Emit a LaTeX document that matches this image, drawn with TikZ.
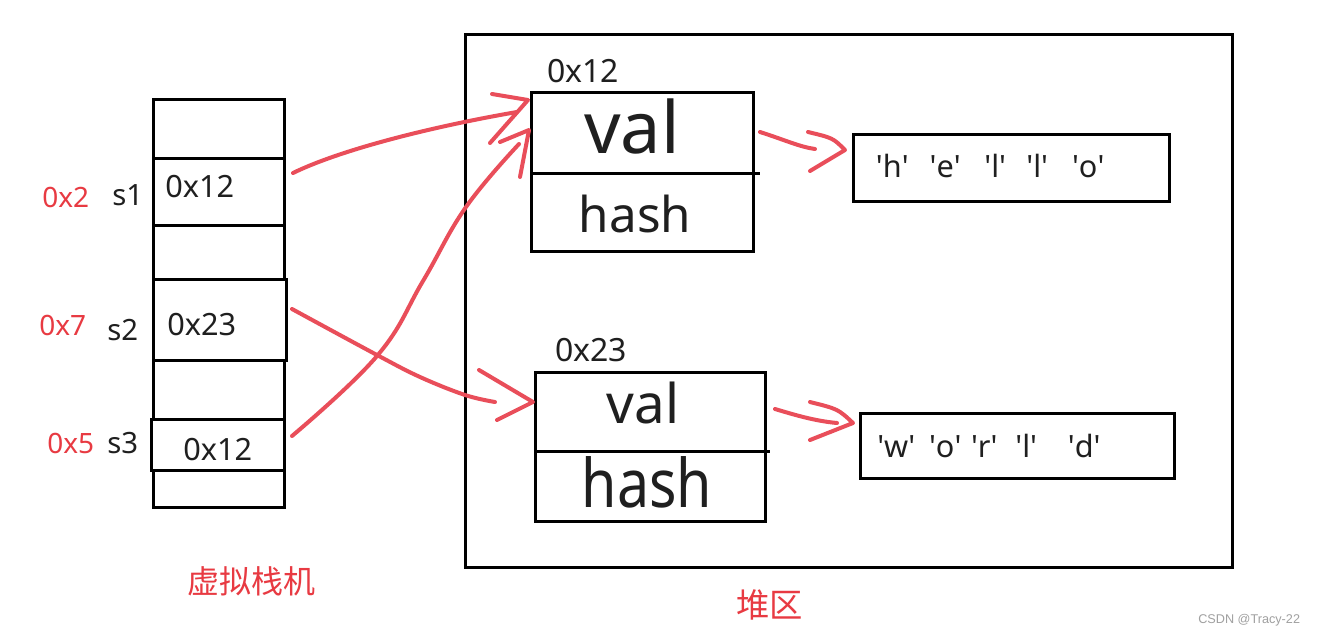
\documentclass[tikz,border=0pt]{standalone}
\usepackage{fontspec}
\setmainfont{Noto Sans}
\newfontfamily\cjk{Noto Sans CJK SC}
\newfontfamily\wmfont{Liberation Sans}
\usetikzlibrary{calc}
\definecolor{inkred}{RGB}{233,78,90}
\definecolor{labred}{RGB}{232,58,66}
\definecolor{wmgray}{RGB}{160,160,160}
\newcommand{\myfs}[1]{\fontsize{#1}{#1}\selectfont}
\newcommand{\qt}{\textquotesingle}
\newcommand{\chr}[1]{\makebox[0pt][c]{\qt #1\qt}}
\begin{document}
\begin{tikzpicture}[x=0.75pt,y=-0.75pt,
  box/.style={draw=black, line width=2.25pt, inner sep=0pt, outer sep=0pt},
  txt/.style={inner sep=0pt, anchor=base west, text=black!88},
  ctxt/.style={inner sep=0pt, anchor=base, text=black!88},
  redtxt/.style={inner sep=0pt, anchor=base west, text=labred},
  redline/.style={draw=inkred, line width=3pt, line cap=round, line join=round},
  divider/.style={draw=black, line width=2.25pt},
]
\useasboundingbox (0,0) rectangle (1317,635);
\fill[white] (0,0) rectangle (1317,635);

% ---- virtual stack ----
\node[box, minimum width=98.25pt, minimum height=43.5pt]  (c0) at (218.5,129) {};
\node[box, minimum width=98.25pt, minimum height=50.25pt] (c1) at (218.5,191.5) {};
\node[box, minimum width=98.25pt, minimum height=40.5pt]  (c2) at (218.5,252) {};
\node[box, minimum width=99.75pt, minimum height=60.75pt] (c3) at (219.5,319.5) {};
\node[box, minimum width=98.25pt, minimum height=44.25pt] (c4) at (218.5,389.5) {};
\node[box, minimum width=99.75pt, minimum height=38.25pt] (c5) at (217.5,444.5) {};
\node[box, minimum width=98.25pt, minimum height=27.75pt] (c6) at (218.5,488.5) {};

\node[txt, font=\myfs{23}] (v1) at (165,197) {0x12};
\node[txt, font=\myfs{23}] (v2) at (167,335) {0x23};
\node[txt, font=\myfs{23}] (v3) at (183,460) {0x12};
\node[txt, font=\myfs{22}] (n1) at (112,205) {s1};
\node[txt, font=\myfs{22}] (n2) at (107,340) {s2};
\node[txt, font=\myfs{22}] (n3) at (107,453) {s3};
\node[redtxt, font=\myfs{21}] (a1) at (42,207) {0x2};
\node[redtxt, font=\myfs{21}] (a2) at (39,335) {0x7};
\node[redtxt, font=\myfs{21}] (a3) at (47,453) {0x5};

\node[redtxt, font=\cjk\myfs{24}] (stk) at (187,593) {虚拟栈机};

% ---- heap ----
\node[box, minimum width=575.25pt, minimum height=399pt] (heap) at (848.5,301) {};
\node[redtxt, font=\cjk\myfs{25}] (heaplbl) at (736,617) {堆区};

% object 1
\node[box, minimum width=166.5pt, minimum height=118.5pt] (obj1) at (642,172) {};
\draw[divider] ([shift={(0,1)}]obj1.west) -- ([shift={(7,1)}]obj1.east);
\node[txt, font=\myfs{24}] (addr1) at (547,83) {0x12};
\node[ctxt, font=\myfs{54}] (val1) at (632,153) {val};
\node[ctxt, font=\myfs{37}] (hash1) at (635,232) {hash};

% object 2
\node[box, minimum width=172.5pt, minimum height=111.75pt] (obj2) at (650,446.5) {};
\draw[divider] ([shift={(0,4.5)}]obj2.west) -- ([shift={(5,4.5)}]obj2.east);
\node[txt, font=\myfs{24}] (addr2) at (555,361) {0x23};
\node[ctxt, font=\myfs{41}] (val2) at (643,423) {val};
\node[ctxt, font=\myfs{43}] (hash2) at (647,507) {\scalebox{1}[1.17]{hash}};

% strings
\node[box, minimum width=237pt, minimum height=50.25pt] (str1) at (1011,167.5) {};
\node[txt, font=\myfs{23}] (chars1) at (892,177)
  {\chr{h}\hspace{39.75pt}\chr{e}\hspace{37.5pt}\chr{l}\hspace{31.5pt}\chr{l}\hspace{38.25pt}\chr{o}};
\node[box, minimum width=235.5pt, minimum height=48.75pt] (str2) at (1017,445.5) {};
\node[txt, font=\myfs{23}] (chars2) at (896,457)
  {\chr{w}\hspace{36.75pt}\chr{o}\hspace{29.25pt}\chr{r}\hspace{31.5pt}\chr{l}\hspace{43.5pt}\chr{d}};

% ---- red arrows ----
% s1 -> obj1
\coordinate (A0) at ([shift={(9,-18.5)}]c1.east);
\coordinate (tA) at ([shift={(-3,7)}]obj1.north west);
\draw[redline] (A0) .. controls (340,150) and (430,127) .. ($(tA)+(-11,12)$);
\draw[redline] ($(tA)+(-36,-6)$) -- (tA) -- ($(tA)+(-38,43)$);

% s3 -> obj1
\coordinate (B0) at ([shift={(8,-8.5)}]c5.east);
\coordinate (tB) at ([shift={(-2,37)}]obj1.north west);
\draw[redline] plot[smooth, tension=0.7] coordinates
  {(B0) (377,356) (423,281) (466,207) ($(tB)+(-10,14)$)};
\draw[redline] ($(tB)+(-29,12)$) -- (tB) -- ($(tB)+(-9,47)$);

% s2 -> obj2
\coordinate (C0) at ([shift={(6,-10.5)}]c3.east);
\coordinate (tC) at ([shift={(-2,-44.5)}]obj2.west);
\draw[redline] plot[smooth, tension=0.6] coordinates
  {(C0) (377,355) (420,377) (465,395) ($(tC)+(-38,0)$)};
\draw[redline] ($(tC)+(-54,-32)$) -- (tC) -- ($(tC)+(-36,18)$);

% val1 -> string1
\coordinate (D0) at ([shift={(7,-40)}]obj1.east);
\coordinate (tD) at ([shift={(-8,-17.5)}]str1.west);
\draw[redline] (D0) .. controls (785,140) and (800,147) .. ($(tD)+(-30,-1)$);
\draw[redline] ($(tD)+(-37,-18)$) .. controls ($(tD)+(-12,-12)$) .. (tD) -- ($(tD)+(-35,21)$);

% val2 -> string2
\coordinate (E0) at ([shift={(10,-37.5)}]obj2.east);
\coordinate (tE) at ([shift={(-7,-22.5)}]str2.west);
\draw[redline] (E0) .. controls (795,415) and (815,421) .. ($(tE)+(-16,0)$);
\draw[redline] ($(tE)+(-43,-21)$) .. controls ($(tE)+(-15,-14)$) .. (tE) -- ($(tE)+(-43,17)$);

% watermark
\node[inner sep=0pt, anchor=base west, text=wmgray, font=\wmfont\myfs{9.5}] (wm) at (1198,623) {CSDN @Tracy-22};
\end{tikzpicture}
\end{document}
